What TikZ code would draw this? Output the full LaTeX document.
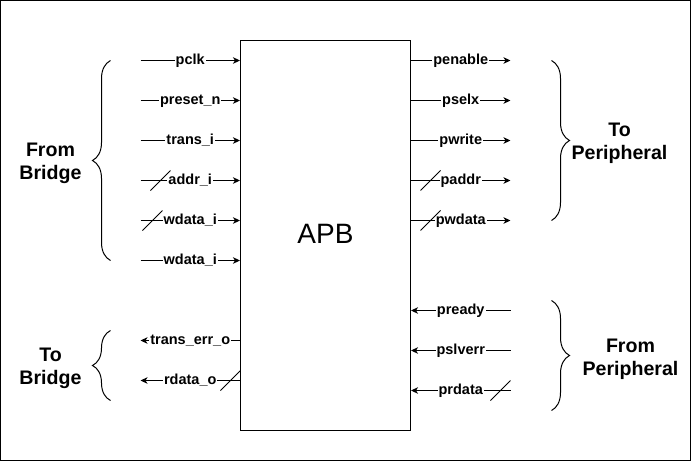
\documentclass[tikz,border=0pt]{standalone}
\usepackage{fontspec}
\setmainfont{Liberation Sans}
\usetikzlibrary{arrows.meta,positioning,decorations.pathreplacing}
\tikzset{
  block/.style={
    draw,
    line width=1pt,
    minimum width=170pt,
    minimum height=390pt
  },
  title/.style={
    inner sep=0pt,
    text height=20pt,
    text depth=0pt,
    font=\fontsize{28}{33}\selectfont
  },
  sig/.style={line width=1pt,-{Stealth[length=7pt,width=6.5pt,inset=2pt]}},
  lbl/.style={
    fill=white,
    inner sep=1pt,
    text height=10.5pt,
    text depth=2pt,
    font=\bfseries\fontsize{14.5}{17}\selectfont
  },
  busmark/.style={line width=0.8pt},
  group/.style={align=center, font=\bfseries\fontsize{19.6}{23}\selectfont},
  curly/.style={decorate, decoration={brace, amplitude=18pt}, line width=1pt}
}

\begin{document}
\begin{tikzpicture}[x=1pt,y=-1pt]
\useasboundingbox (0,0) rectangle (691,461);
\draw[line width=1pt] (0.5,0.5) rectangle (690.5,460.5);

\begin{scope}[shift={(0.5,0.5)}]
\node[block] (apb) at (325,235) {};
\node[title] (apbtext) at (325,233) {APB};

% inputs from bridge
\coordinate (pclk) at (140,60);
\coordinate (preset) at (140,100);
\coordinate (trans) at (140,140);
\coordinate (addr) at (140,180);
\coordinate (wdata) at (140,220);
\coordinate (wdatab) at (140,260);
\draw[sig] (pclk) -- (pclk -| apb.west) node[lbl, midway] (l-pclk) {pclk};
\draw[sig] (preset) -- (preset -| apb.west) node[lbl, midway] (l-preset) {preset\_n};
\draw[sig] (trans) -- (trans -| apb.west) node[lbl, midway] (l-trans) {trans\_i};
\draw[sig] (addr) -- (addr -| apb.west) node[lbl, midway] (l-addr) {addr\_i};
\draw[sig] (wdata) -- (wdata -| apb.west) node[lbl, midway] (l-wdata) {wdata\_i};
\draw[sig] (wdatab) -- (wdatab -| apb.west) node[lbl, midway] (l-wdatab) {wdata\_i};

% outputs to bridge
\coordinate (transerr) at (140,340);
\coordinate (rdata) at (140,380);
\draw[sig] (transerr -| apb.west) -- (transerr) node[lbl, midway] (l-transerr) {trans\_err\_o};
\draw[sig] (rdata -| apb.west) -- (rdata) node[lbl, midway] (l-rdata) {rdata\_o};

% outputs to peripheral
\coordinate (penable) at (510,60);
\coordinate (pselx) at (510,100);
\coordinate (pwrite) at (510,140);
\coordinate (paddr) at (510,180);
\coordinate (pwdata) at (510,220);
\draw[sig] (penable -| apb.east) -- (penable) node[lbl, midway] (l-penable) {penable};
\draw[sig] (pselx -| apb.east) -- (pselx) node[lbl, midway] (l-pselx) {pselx};
\draw[sig] (pwrite -| apb.east) -- (pwrite) node[lbl, midway] (l-pwrite) {pwrite};
\draw[sig] (paddr -| apb.east) -- (paddr) node[lbl, midway] (l-paddr) {paddr};
\draw[sig] (pwdata -| apb.east) -- (pwdata) node[lbl, midway] (l-pwdata) {pwdata};

% inputs from peripheral
\coordinate (pready) at (510,310);
\coordinate (pslverr) at (510,350);
\coordinate (prdata) at (510,390);
\draw[sig] (pready) -- (pready -| apb.east) node[lbl, midway] (l-pready) {pready};
\draw[sig] (pslverr) -- (pslverr -| apb.east) node[lbl, midway] (l-pslverr) {pslverr};
\draw[sig] (prdata) -- (prdata -| apb.east) node[lbl, midway] (l-prdata) {prdata};

% bus marks
\draw[busmark] (150,190) -- (170,170);
\draw[busmark] (142,230) -- (162,210);
\draw[busmark] (220,390) -- (240,370);
\draw[busmark] (420,190) -- (440,170);
\draw[busmark] (420,230) -- (440,210);
\draw[busmark] (490,400) -- (510,380);

% braces
\draw[curly] (110,260) -- (110,60);
\draw[curly] (110,400) -- (110,330);
\draw[curly] (551,60) -- (551,220);
\draw[curly] (551,300) -- (551,410);

\node[group] (frombridge) at (50,163) {From\\Bridge};
\node[group] (tobridge) at (50,368) {To\\Bridge};
\node[group] (toperiph) at (619,143) {To\\Peripheral};
\node[group] (fromperiph) at (630,359) {From\\Peripheral};
\end{scope}
\end{tikzpicture}
\end{document}
